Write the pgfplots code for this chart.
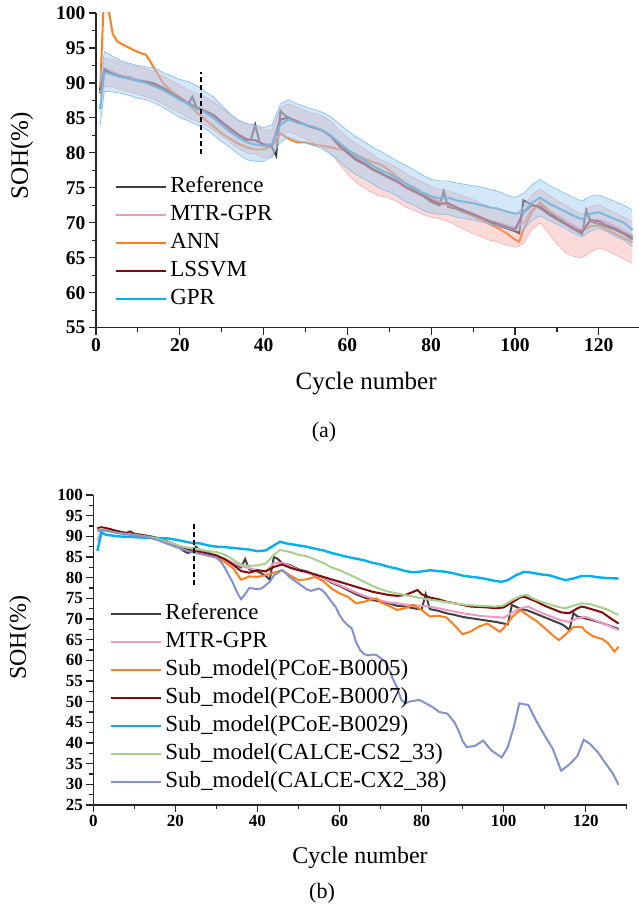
\documentclass[border=0pt]{standalone}
\usepackage{fontspec}
\setmainfont{Liberation Serif}
\usepackage{pgfplots}
\pgfplotsset{compat=1.18}
\usepackage{pgfplotstable}

\definecolor{refc}{HTML}{404040}
\definecolor{mtrc}{HTML}{EE99C4}
\definecolor{annc}{HTML}{FF7F1E}
\definecolor{lsc}{HTML}{7F0A0A}
\definecolor{gprc}{HTML}{00B0F0}
\definecolor{csc}{HTML}{A8D08D}
\definecolor{cxc}{HTML}{8490D0}
\definecolor{bandb}{HTML}{9CCBF0}
\definecolor{bandbe}{HTML}{7DBCEB}
\definecolor{bandp}{HTML}{F6A3A3}

\pgfplotstableread{
c gu gl mu ml
1 90.5 84.0 91.0 87.0
2 94.5 88.8 93.5 89.5
4 93.8 88.7 93.4 89.4
6 93.2 88.5 93.0 89.0
8 92.8 88.2 92.6 88.7
10 92.5 87.8 92.3 88.4
12 92.3 87.6 92.0 88.0
14 92.1 87.1 91.6 87.6
16 91.5 86.5 91.0 87.0
18 91.0 85.8 90.3 86.3
20 90.5 85.0 89.7 85.7
22 90.2 84.6 89.0 85.0
24 89.6 84.0 88.5 84.5
26 88.8 83.5 88.0 84.0
28 88.0 82.6 87.3 83.3
30 86.8 81.6 86.4 82.4
32 85.6 80.8 85.5 81.5
34 84.7 79.8 84.6 80.6
36 84.2 79.0 84.0 80.0
38 84.0 78.8 83.8 79.8
40 83.6 78.8 83.3 79.3
42 84.0 79.5 83.3 79.3
44 87.0 81.5 86.5 82.5
46 87.6 82.3 87.0 83.0
48 87.0 81.8 86.5 82.5
50 86.6 81.4 86.0 82.0
52 86.2 81.0 85.6 81.4
54 85.8 80.6 85.3 80.8
56 85.2 79.8 84.5 80.0
58 84.2 78.8 83.3 78.5
60 83.2 77.8 82.2 77.0
62 82.3 76.9 81.3 75.8
64 81.6 76.3 80.6 75.0
66 80.8 75.6 79.8 74.3
68 80.2 74.8 79.0 73.8
70 79.5 74.4 78.5 73.5
72 78.8 73.8 77.8 73.0
74 78.2 73.0 77.0 72.2
76 77.5 72.5 76.4 71.8
78 76.8 71.8 75.8 71.2
80 76.2 71.4 75.2 70.8
82 76.0 71.2 74.8 70.6
84 76.0 71.2 74.6 70.2
86 75.7 70.8 74.2 69.6
88 75.5 70.6 73.8 69.0
90 75.3 70.4 73.3 68.5
92 75.1 70.1 72.8 68.0
94 74.8 69.8 72.3 67.5
96 74.5 69.6 72.0 67.2
98 74.0 69.2 71.6 66.8
100 73.6 68.9 71.3 66.5
102 74.2 69.0 72.2 67.0
104 75.4 70.3 74.0 69.0
106 76.2 71.0 74.8 70.0
108 75.4 70.4 74.0 68.5
110 74.8 69.8 73.2 67.0
112 74.2 69.2 72.5 65.7
114 73.6 68.5 71.8 65.2
116 73.1 68.0 71.2 65.0
118 73.8 68.8 72.3 65.8
120 74.0 69.2 72.6 66.4
122 73.5 68.7 72.0 66.0
124 73.0 68.0 71.4 65.4
126 72.5 67.5 70.8 64.8
128 71.8 66.6 70.2 64.2
}\bandA

\pgfplotsset{
  soh/.style={
    scale only axis,
    axis lines=left,
    axis line style={-, line width=1.3pt, black!85},
    tick style={line width=1.2pt, black!85},
    tick align=outside,
    major tick length=7pt, minor tick length=4pt,
    xmin=0, xmax=130, xtick={0,20,...,120}, minor xtick={10,30,...,130},
    /pgf/number format/assume math mode=true,
    legend cell align=left,
    legend image code/.code={\draw[##1] (0pt,0pt) -- (50pt,0pt);},
    legend style={draw=none, fill=none, inner sep=0pt, row sep=7pt, column sep=3pt,
      font=\fontsize{23}{23}\selectfont,
      nodes={inner sep=0pt, text height=16pt, text depth=5pt}},
    every axis plot/.append style={line width=2pt},
  }
}

\begin{document}
\begin{tikzpicture}
\path[use as bounding box] (0pt,0pt) rectangle (638pt,916pt);

% ---------------- panel (a)
\begin{axis}[soh,
  at={(96pt,588.3pt)}, anchor=south west,
  width=544.7pt, height=314.7pt,
  ymin=55, ymax=100, ytick={55,60,...,100}, minor y tick num=1,
  tick label style={font=\fontsize{19.5}{19.5}\selectfont\bfseries},
  xlabel={Cycle number}, ylabel={SOH(\%)},
  label style={font=\fontsize{25}{25}\selectfont},
  xlabel style={at={(axis description cs:0.496,-0.176)}, anchor=center},
  ylabel style={at={(axis description cs:-0.136,0.546)}, anchor=center},
  legend style={at={(axis description cs:0.035,0.48)}, anchor=north west},
]
\addplot[refc] coordinates {(1,88.5)(2,92)(4,91.5)(6,91)(8,90.8)(10,90.4)(12,90.2)(14,89.9)(16,89.3)(18,88.6)(20,87.8)(22,87)(23,88)(24,86.5)(26,86)(28,85.4)(30,84.4)(32,83.4)(34,82.5)(36,81.8)(37,82)(38,84)(39,81.6)(40,81.1)(42,80.8)(43,79.6)(44,86)(45,85.4)(46,85)(48,84.5)(50,84)(52,83.6)(54,83.2)(56,82.4)(58,81)(60,80)(62,79)(64,78.4)(66,77.6)(68,77)(70,76.4)(72,75.8)(74,75)(76,74.4)(78,73.8)(80,73)(82,72.5)(83,74.5)(84,72.3)(86,72)(88,71.5)(90,71)(92,70.5)(94,70)(96,69.6)(98,69.2)(100,68.8)(101,68.5)(102,73.2)(104,72.6)(106,72.1)(108,71.2)(110,70.5)(112,69.8)(114,69.1)(116,68.4)(117,71.8)(118,70.2)(120,69.8)(122,69.4)(124,69)(126,68.4)(128,67.6)};
\addlegendentry{Reference}
\addplot[mtrc] coordinates {(1,89)(2,91.8)(4,91.5)(6,91.0)(8,90.7)(10,90.4)(12,90.0)(14,89.6)(16,89.0)(18,88.3)(20,87.7)(22,87.0)(24,86.5)(26,86.0)(28,85.3)(30,84.4)(32,83.5)(34,82.6)(36,82.0)(38,81.8)(40,81.3)(42,81.3)(44,84.5)(46,85.0)(48,84.5)(50,84.0)(52,83.6)(54,83.3)(56,82.5)(58,81.3)(60,80.2)(62,79.3)(64,78.6)(66,77.8)(68,77.0)(70,76.5)(72,75.8)(74,75.0)(76,74.4)(78,73.8)(80,73.2)(82,72.8)(84,72.6)(86,72.2)(88,71.8)(90,71.3)(92,70.8)(94,70.3)(96,70.0)(98,69.6)(100,69.3)(102,70.0)(104,71.8)(106,72.6)(108,71.8)(110,71.0)(112,70.3)(114,69.6)(116,69.0)(118,70.2)(120,70.5)(122,70.0)(124,69.4)(126,68.8)(128,68.2)};
\addlegendentry{MTR-GPR}
\addplot[annc] coordinates {(1,89)(2,104)(3,100.5)(4,97)(5,96)(6,95.6)(8,95)(10,94.4)(12,94)(14,92)(16,90)(18,88.8)(20,88)(22,87)(24,85.8)(26,84.8)(28,83.8)(30,82.8)(32,82)(34,81.3)(36,80.8)(38,80.5)(40,80.5)(42,81)(44,82.8)(46,82)(48,81.5)(50,81.5)(52,81.2)(54,81)(56,80.8)(58,80.5)(60,80.3)(62,79.8)(64,79.2)(66,78.7)(68,78.3)(70,77.5)(72,76.5)(74,75.6)(76,74.8)(78,74.1)(80,73.5)(82,73)(84,72.6)(86,72.2)(88,71.6)(90,71.0)(92,70.4)(94,69.8)(96,69.2)(98,68.5)(100,67.6)(101,67.3)(102,69)(104,71.5)(106,73)(108,71.8)(110,70.8)(112,70)(114,69.2)(116,68.8)(118,69.5)(120,69.6)(122,69)(124,68.4)(126,67.8)(128,67.2)};
\addlegendentry{ANN}
\addplot[lsc] coordinates {(1,89)(2,91.8)(4,91.3)(6,90.9)(8,90.6)(10,90.3)(12,90.1)(14,89.8)(16,89.2)(18,88.5)(20,87.8)(22,87.1)(24,86.5)(26,86)(28,85.4)(30,84.4)(32,83.5)(34,82.6)(36,81.9)(38,81.8)(40,81.2)(42,81)(44,84.8)(46,85)(48,84.5)(50,84)(52,83.6)(54,83.2)(56,82.4)(58,81.1)(60,80.1)(62,79.1)(64,78.5)(66,77.7)(68,77.1)(70,76.5)(72,75.9)(74,75.1)(76,74.5)(78,73.9)(80,73.2)(82,72.7)(84,72.8)(86,72.2)(88,71.7)(90,71.2)(92,70.7)(94,70.2)(96,69.8)(98,69.4)(100,69)(102,71.5)(104,72.5)(106,72.3)(108,71.4)(110,70.6)(112,69.9)(114,69.2)(116,68.7)(118,70.4)(120,70.2)(122,69.6)(124,69.1)(126,68.5)(128,67.9)};
\addlegendentry{LSSVM}
\addplot[gprc] coordinates {(1,86.3)(2,91.5)(4,91.2)(6,90.8)(8,90.6)(10,90.3)(12,90.0)(14,89.5)(16,89.0)(18,88.3)(20,87.6)(22,87.0)(24,86.3)(26,85.8)(28,85.0)(30,84.0)(32,83.0)(34,82.2)(36,81.5)(38,81.2)(40,81.0)(42,81.2)(44,84.0)(46,84.8)(48,84.3)(50,84.0)(52,83.7)(54,83.2)(56,82.5)(58,81.5)(60,80.5)(62,79.6)(64,79.0)(66,78.2)(68,77.5)(70,77.0)(72,76.3)(74,75.6)(76,75.0)(78,74.3)(80,73.8)(82,73.5)(84,73.6)(86,73.2)(88,73.0)(90,72.8)(92,72.5)(94,72.2)(96,72.0)(98,71.6)(100,71.3)(102,71.5)(104,72.8)(106,73.6)(108,72.8)(110,72.2)(112,71.6)(114,71.0)(116,70.5)(118,71.3)(120,71.5)(122,71.0)(124,70.5)(126,70.0)(128,69.0)};
\addlegendentry{GPR}
% MTR-GPR band (upper forward, lower backward)
\addplot[fill=bandp, fill opacity=0.4, draw=none, forget plot] coordinates {(1,91.0)(2,93.5)(4,93.4)(6,93.0)(8,92.6)(10,92.3)(12,92.0)(14,91.6)(16,91.0)(18,90.3)(20,89.7)(22,89.0)(24,88.5)(26,88.0)(28,87.3)(30,86.4)(32,85.5)(34,84.6)(36,84.0)(38,83.8)(40,83.3)(42,83.3)(44,86.5)(46,87.0)(48,86.5)(50,86.0)(52,85.6)(54,85.3)(56,84.5)(58,83.3)(60,82.2)(62,81.3)(64,80.6)(66,79.8)(68,79.0)(70,78.5)(72,77.8)(74,77.0)(76,76.4)(78,75.8)(80,75.2)(82,74.8)(84,74.6)(86,74.2)(88,73.8)(90,73.3)(92,72.8)(94,72.3)(96,72.0)(98,71.6)(100,71.3)(102,72.2)(104,74.0)(106,74.8)(108,74.0)(110,73.2)(112,72.5)(114,71.8)(116,71.2)(118,72.3)(120,72.6)(122,72.0)(124,71.4)(126,70.8)(128,70.2)
(128,64.2)(126,64.8)(124,65.4)(122,66.0)(120,66.4)(118,65.8)(116,65.0)(114,65.2)(112,65.7)(110,67.0)(108,68.5)(106,70.0)(104,69.0)(102,67.0)(100,66.5)(98,66.8)(96,67.2)(94,67.5)(92,68.0)(90,68.5)(88,69.0)(86,69.6)(84,70.2)(82,70.6)(80,70.8)(78,71.2)(76,71.8)(74,72.2)(72,73.0)(70,73.5)(68,73.8)(66,74.3)(64,75.0)(62,75.8)(60,77.0)(58,78.5)(56,80.0)(54,80.8)(52,81.4)(50,82.0)(48,82.5)(46,83.0)(44,82.5)(42,79.3)(40,79.3)(38,79.8)(36,80.0)(34,80.6)(32,81.5)(30,82.4)(28,83.3)(26,84.0)(24,84.5)(22,85.0)(20,85.7)(18,86.3)(16,87.0)(14,87.6)(12,88.0)(10,88.4)(8,88.7)(6,89.0)(4,89.4)(2,89.5)(1,87.0)} -- cycle;
\addplot[draw=bandp, line width=0.5pt, forget plot] table[x=c,y=mu]{\bandA};
\addplot[draw=bandp, line width=0.5pt, forget plot] table[x=c,y=ml]{\bandA};
% GPR band
\addplot[fill=bandb, fill opacity=0.45, draw=none, forget plot] coordinates {(1,90.5)(2,94.5)(4,93.8)(6,93.2)(8,92.8)(10,92.5)(12,92.3)(14,92.1)(16,91.5)(18,91.0)(20,90.5)(22,90.2)(24,89.6)(26,88.8)(28,88.0)(30,86.8)(32,85.6)(34,84.7)(36,84.2)(38,84.0)(40,83.6)(42,84.0)(44,87.0)(46,87.6)(48,87.0)(50,86.6)(52,86.2)(54,85.8)(56,85.2)(58,84.2)(60,83.2)(62,82.3)(64,81.6)(66,80.8)(68,80.2)(70,79.5)(72,78.8)(74,78.2)(76,77.5)(78,76.8)(80,76.2)(82,76.0)(84,76.0)(86,75.7)(88,75.5)(90,75.3)(92,75.1)(94,74.8)(96,74.5)(98,74.0)(100,73.6)(102,74.2)(104,75.4)(106,76.2)(108,75.4)(110,74.8)(112,74.2)(114,73.6)(116,73.1)(118,73.8)(120,74.0)(122,73.5)(124,73.0)(126,72.5)(128,71.8)
(128,66.6)(126,67.5)(124,68.0)(122,68.7)(120,69.2)(118,68.8)(116,68.0)(114,68.5)(112,69.2)(110,69.8)(108,70.4)(106,71.0)(104,70.3)(102,69.0)(100,68.9)(98,69.2)(96,69.6)(94,69.8)(92,70.1)(90,70.4)(88,70.6)(86,70.8)(84,71.2)(82,71.2)(80,71.4)(78,71.8)(76,72.5)(74,73.0)(72,73.8)(70,74.4)(68,74.8)(66,75.6)(64,76.3)(62,76.9)(60,77.8)(58,78.8)(56,79.8)(54,80.6)(52,81.0)(50,81.4)(48,81.8)(46,82.3)(44,81.5)(42,79.5)(40,78.8)(38,78.8)(36,79.0)(34,79.8)(32,80.8)(30,81.6)(28,82.6)(26,83.5)(24,84.0)(22,84.6)(20,85.0)(18,85.8)(16,86.5)(14,87.1)(12,87.6)(10,87.8)(8,88.2)(6,88.5)(4,88.7)(2,88.8)(1,84.0)} -- cycle;
\addplot[draw=bandbe, line width=0.6pt, forget plot] table[x=c,y=gu]{\bandA};
\addplot[draw=bandbe, line width=0.6pt, forget plot] table[x=c,y=gl]{\bandA};
\addplot[black, line width=2.4pt, dash pattern=on 5pt off 3pt, forget plot] coordinates {(25,79.8)(25,91.5)};
\end{axis}
\node[font=\fontsize{22}{22}\selectfont] at (324pt,484pt) {(a)};

% ---------------- panel (b)
\begin{axis}[soh,
  at={(93.3pt,111pt)}, anchor=south west,
  width=533.5pt, height=310pt,
  ymin=25, ymax=100, ytick={25,30,...,100}, minor y tick num=1,
  tick label style={font=\fontsize{17}{17}\selectfont\bfseries},
  xlabel={Cycle number}, ylabel={SOH(\%)},
  label style={font=\fontsize{24}{24}\selectfont},
  xlabel style={at={(axis description cs:0.5,-0.171)}, anchor=center},
  ylabel style={at={(axis description cs:-0.137,0.539)}, anchor=center},
  legend style={at={(axis description cs:0.031,0.65)}, anchor=north west},
]
\addplot[refc] coordinates {(1,91.8)(2,92)(4,91.5)(6,91.2)(8,90.8)(9,91.2)(10,90.6)(12,90.3)(14,90)(16,89.5)(18,88.8)(20,88)(22,86.5)(23,86)(24,86.2)(25,87.5)(26,86.5)(28,86)(30,85.2)(32,84.5)(34,83.5)(36,82.5)(37,84.5)(38,82)(40,81.5)(42,80.5)(43,79.5)(44,85)(45,84.5)(46,83.5)(48,83)(50,82)(52,81.5)(54,80.5)(56,80)(58,78.8)(60,78)(62,77)(64,76)(66,75.2)(68,74.6)(70,74.2)(72,73.8)(74,73.2)(76,73)(78,72.6)(80,72.3)(81,76)(82,72.4)(84,72)(86,71.4)(88,71)(90,70.5)(92,70.2)(94,69.9)(96,69.6)(98,69.3)(100,68.9)(101,68.7)(102,73.4)(104,72.5)(106,72.0)(108,71.2)(110,70.4)(112,69.6)(114,68.8)(115,68.2)(116,67.3)(117,71.4)(118,70.6)(120,70.1)(122,69.6)(124,69)(126,68.3)(128,67.6)};
\addlegendentry{Reference}
\addplot[mtrc] coordinates {(1,89)(2,91.5)(4,91.2)(6,91)(8,90.7)(10,90.5)(12,90.2)(14,89.8)(16,89.3)(18,88.7)(20,88)(22,87.3)(24,86.7)(26,86.3)(28,85.8)(30,85.2)(32,84.5)(34,83.6)(36,82.8)(38,82.3)(40,81.8)(42,81.5)(44,83.5)(46,83.6)(48,82.8)(50,81.8)(52,81.3)(54,80.6)(56,80)(58,79)(60,78.2)(62,77.3)(64,76.4)(66,75.6)(68,75)(70,74.5)(72,74)(74,73.8)(76,73.5)(78,73.3)(80,73.2)(82,73)(84,72.6)(86,72.2)(88,71.8)(90,71.4)(92,71.1)(94,70.8)(96,70.6)(98,70.5)(100,70.3)(102,71.5)(104,72.6)(106,73)(108,72)(110,71.2)(112,70.4)(114,69.7)(116,69.3)(118,70.2)(120,70.5)(122,69.8)(124,69)(126,68.2)(128,67.3)};
\addlegendentry{MTR-GPR}
\addplot[annc] coordinates {(1,91.5)(2,92)(4,91.6)(6,91.2)(8,90.8)(10,90.4)(12,90.2)(14,89.8)(16,89.2)(18,88.3)(20,87.5)(22,86.8)(24,86.3)(26,85.8)(28,85.3)(30,85)(32,83.8)(34,82.4)(36,79.5)(38,80.3)(40,80.2)(42,80.6)(44,81.2)(46,81.8)(48,80.5)(50,79.4)(52,79.6)(54,80.2)(56,79.2)(58,77.4)(60,76.2)(62,75.4)(64,73.8)(66,74.2)(68,74.8)(69,75)(70,74)(72,73.2)(74,72.2)(76,72.6)(78,73.4)(80,72.2)(82,70.6)(84,70.8)(86,70.4)(88,68.5)(90,66.3)(92,67)(94,68.2)(96,68.9)(98,67.6)(99,66.9)(100,67.8)(102,70.4)(104,72.2)(106,70.8)(108,69.5)(110,67.8)(112,66)(113.5,64.9)(115,66.2)(117,68.1)(119,68.1)(120,67)(122,65.7)(124,65.2)(125.5,64.1)(127,62.1)(128,63.3)};
\addlegendentry{Sub\_model(PCoE-B0005)}
\addplot[lsc] coordinates {(1,92)(2,92.2)(4,91.8)(6,91.2)(8,90.8)(10,90.6)(12,90.3)(14,89.8)(16,89.2)(18,88.4)(20,87.6)(22,87)(24,86.5)(26,86.2)(28,85.8)(30,85.4)(32,84.5)(34,83.2)(36,81.6)(38,81.2)(40,81.8)(42,81.5)(44,82.6)(46,83.2)(48,82.4)(50,81.8)(52,81.4)(54,80.8)(56,80.2)(58,79.6)(60,79)(62,78.4)(64,77.8)(66,77.2)(68,76.6)(70,76.2)(72,75.8)(74,75.6)(76,75.8)(78,76.6)(79,77)(80,76)(82,75.2)(84,74.8)(86,74.2)(88,73.8)(90,73.4)(92,73)(94,72.9)(96,72.8)(98,72.6)(100,72.8)(102,74)(104,75.2)(105,75.4)(106,75)(108,74.2)(110,73.2)(112,72.4)(114,71.6)(116,71.4)(118,72.6)(119,73)(120,72.8)(122,72.2)(124,71.6)(126,70.2)(128,68.9)};
\addlegendentry{Sub\_model(PCoE-B0007)}
\addplot[gprc, line width=2.4pt] coordinates {(1,86.5)(2,91)(3,90.4)(6,90)(10,89.8)(14,89.6)(18,89.5)(20,89.2)(22,88.8)(24,88.4)(26,88.3)(28,87.8)(30,87.5)(32,87.4)(34,87.2)(36,87)(38,86.8)(40,86.4)(42,86.6)(44,87.8)(45.5,88.7)(47,88.3)(50,87.8)(52,87.5)(54,87)(56,86.6)(58,86)(60,85.5)(62,85)(64,84.6)(66,84.2)(68,83.6)(70,83.2)(72,82.6)(74,82.2)(76,81.6)(78,81.3)(80,81.5)(82,81.8)(84,81.6)(86,81.4)(88,81)(90,80.5)(92,80.2)(94,80)(96,79.6)(98,79.2)(99.5,79)(101,79.4)(103,80.6)(105,81.4)(107,81.2)(109,80.8)(111,80.6)(113,80)(115,79.4)(117,79.8)(119,80.4)(121,80.4)(123,80.1)(125,79.9)(128,79.8)};
\addlegendentry{Sub\_model(PCoE-B0029)}
\addplot[csc] coordinates {(1,91.5)(2,91.8)(4,91.2)(6,90.8)(8,90.6)(10,90.4)(12,90.1)(14,89.8)(16,89.3)(18,88.6)(20,88)(22,87.4)(24,87.2)(26,86.8)(28,86.4)(30,86.2)(32,85.6)(34,84.4)(36,83.2)(38,82.8)(40,83)(42,83.4)(44,85.5)(45.5,86.7)(48,86.2)(50,85.5)(52,85.2)(54,84.4)(56,83.6)(58,82.5)(60,81.8)(62,80.9)(64,80)(66,79)(68,78)(70,77.2)(72,76.6)(74,76.2)(76,75.8)(78,75.4)(80,75)(82,74.7)(84,74.4)(86,74.1)(88,73.8)(90,73.5)(92,73.3)(94,73.2)(96,73.1)(98,73)(100,73.3)(102,74.5)(104,75.5)(105.5,75.9)(107,75)(109,74.2)(111,73.6)(113,73)(115,72.6)(117,73.2)(119,73.8)(121,73.6)(123,73)(125,72.4)(127,71.4)(128,71)};
\addlegendentry{Sub\_model(CALCE-CS2\_33)}
\addplot[cxc] coordinates {(1,91.2)(2,91.6)(4,91.2)(6,90.8)(8,90.5)(10,90.2)(12,90)(14,89.6)(16,89)(18,88.2)(20,87.6)(22,86.8)(24,86.2)(26,85.8)(28,85.4)(30,84.8)(31,84)(32,82.5)(33,80.6)(34,78.8)(35,76.5)(36,74.8)(37,76)(38,77.5)(40,77.2)(41,77.4)(42,78.2)(43,79)(44,80.5)(45,81.2)(46,81.8)(47,81)(48,80)(50,78.6)(52,77.2)(53,76.8)(55,77.4)(56,76.8)(57,75.6)(58,74.2)(59,73)(60,71)(61,69.5)(62,68.5)(63,67.7)(64,64.5)(65,62.5)(66,61.5)(67,61.2)(68,61.4)(69,61.3)(70,60.5)(71,59.8)(72,58)(73,55.5)(74,53.5)(75,50.5)(76,49.6)(77,50)(78,50.2)(79.5,50.4)(81,49.6)(82.5,48.8)(84.3,47.5)(86.3,47.1)(88,45)(89,43)(90,40.5)(91,39)(93,39.3)(95,40.6)(97,38.2)(99.5,36.5)(101,39)(102.5,44)(103.8,49.6)(106,49.2)(108,45.2)(110,41.8)(112,38.5)(114,33.3)(116,34.8)(118,36.9)(119.5,40.8)(121,39.8)(123,37.7)(125,34.8)(126.5,32.8)(128,29.9)};
\addlegendentry{Sub\_model(CALCE-CX2\_38)}
\addplot[black, line width=2.4pt, dash pattern=on 5pt off 3pt, forget plot] coordinates {(24.5,78.2)(24.5,93.5)};
\end{axis}
\node[font=\fontsize{22}{22}\selectfont] at (322pt,23pt) {(b)};
\end{tikzpicture}
\end{document}
